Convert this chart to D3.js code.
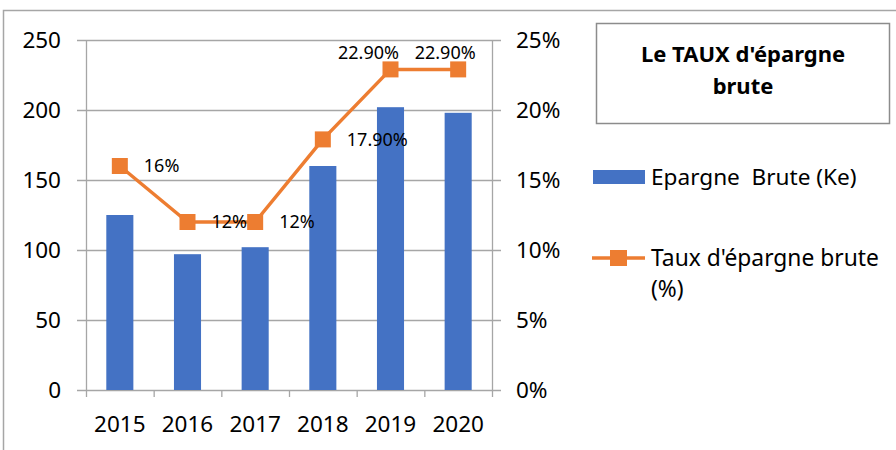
<!DOCTYPE html>
<html><head><meta charset="utf-8">
<script src="https://cdn.jsdelivr.net/npm/d3@7"></script>
<style>body{margin:0;background:#fff}svg{display:block;font-family:"Noto Sans",sans-serif}</style>
</head><body><div id="chart"></div>
<script>
const years = ["2015","2016","2017","2018","2019","2020"];
const epargne = [125, 97, 102, 160, 202, 198];
const taux = [16, 12, 12, 17.9, 22.9, 22.9];
const tauxLabels = ["16%","12%","12%","17.90%","22.90%","22.90%"];
const leftTicks = [0, 50, 100, 150, 200, 250];
const rightTicks = [0, 5, 10, 15, 20, 25];
const title = ["Le TAUX d'épargne", "brute"];
const legendNames = ["Epargne  Brute (Ke)", "Taux d'épargne brute", "(%)"];

const W = 896, H = 450;
const blue = "#4472C4", orange = "#ED7D31", grid = "#a6a6a6";
const svg = d3.select("#chart").append("svg").attr("width", W).attr("height", H);

// outer chart border
svg.append("rect").attr("x", 3.5).attr("y", 10.5).attr("width", 900).attr("height", 460)
  .attr("fill", "none").attr("stroke", "#a6a6a6").attr("stroke-width", 1.5);

const x0 = 86, x1 = 492, yTop = 40, yBot = 390;
const x = d3.scaleBand().domain(years).range([x0, x1]).paddingInner(0.6).paddingOuter(0.3);
const xc = d3.scaleBand().domain(years).range([x0, x1]);
const yL = d3.scaleLinear().domain([0, 250]).range([yBot, yTop]);
const yR = d3.scaleLinear().domain([0, 25]).range([yBot, yTop]);

// gridlines
svg.append("g").selectAll("line").data(leftTicks).join("line")
  .attr("x1", x0 - 9).attr("x2", x1 + 9)
  .attr("y1", d => yL(d) + 0.5).attr("y2", d => yL(d) + 0.5)
  .attr("stroke", grid).attr("stroke-width", 1.3);

// axes lines
svg.append("line").attr("x1", x0 + 0.5).attr("x2", x0 + 0.5).attr("y1", yTop).attr("y2", yBot + 7)
  .attr("stroke", grid).attr("stroke-width", 1.3);
svg.append("line").attr("x1", x1 + 0.5).attr("x2", x1 + 0.5).attr("y1", yTop).attr("y2", yBot + 7)
  .attr("stroke", grid).attr("stroke-width", 1.3);
// category ticks
svg.append("g").selectAll("line").data(years.slice(1)).join("line")
  .attr("x1", d => xc(d) + 0.5).attr("x2", d => xc(d) + 0.5)
  .attr("y1", yBot).attr("y2", yBot + 7)
  .attr("stroke", grid).attr("stroke-width", 1.3);

// left tick labels
svg.append("g").selectAll("text").data(leftTicks).join("text")
  .attr("x", 61).attr("y", d => yL(d)).attr("dy", "0.36em")
  .attr("text-anchor", "end").attr("font-size", 22.5).attr("fill", "#000")
  .text(d => d);
// right tick labels
svg.append("g").selectAll("text").data(rightTicks).join("text")
  .attr("x", 516).attr("y", d => yR(d)).attr("dy", "0.36em")
  .attr("text-anchor", "start").attr("font-size", 22.5).attr("fill", "#000")
  .text(d => d + "%");
// x labels
svg.append("g").selectAll("text").data(years).join("text")
  .attr("x", d => xc(d) + xc.bandwidth() / 2).attr("y", 432)
  .attr("text-anchor", "middle").attr("font-size", 22.5).attr("fill", "#000")
  .text(d => d);

// bars
svg.append("g").selectAll("rect").data(epargne).join("rect")
  .attr("x", (d, i) => x(years[i])).attr("width", x.bandwidth())
  .attr("y", d => yL(d)).attr("height", d => yBot - yL(d))
  .attr("fill", blue);

// line
const pts = taux.map((v, i) => [xc(years[i]) + xc.bandwidth() / 2, yR(v)]);
svg.append("path").attr("d", d3.line()(pts)).attr("fill", "none")
  .attr("stroke", orange).attr("stroke-width", 3.5).attr("stroke-linejoin", "round");
const ms = 16;
svg.append("g").selectAll("rect").data(pts).join("rect")
  .attr("x", d => d[0] - ms / 2).attr("y", d => d[1] - ms / 2)
  .attr("width", ms).attr("height", ms).attr("fill", orange);

// data labels
const aboveDx = [0, 0, 0, 0, -22, -13];
svg.append("g").selectAll("text").data(pts).join("text")
  .attr("x", (d, i) => i < 4 ? d[0] + 24 : d[0] + aboveDx[i])
  .attr("y", (d, i) => i < 4 ? d[1] : d[1] - 17)
  .attr("dy", "0.36em")
  .attr("text-anchor", (d, i) => i < 4 ? "start" : "middle")
  .attr("font-size", 18).attr("fill", "#000")
  .text((d, i) => tauxLabels[i]);

// title box
svg.append("rect").attr("x", 596.5).attr("y", 23.5).attr("width", 293).attr("height", 100)
  .attr("fill", "#fff").attr("stroke", "#8c8c8c").attr("stroke-width", 1.5);
svg.append("g").selectAll("text").data(title).join("text")
  .attr("x", 743).attr("y", (d, i) => 62 + i * 32)
  .attr("text-anchor", "middle").attr("font-size", 22).attr("font-weight", "bold").attr("fill", "#000")
  .text(d => d);

// legend
svg.append("rect").attr("x", 593).attr("y", 170).attr("width", 52).attr("height", 14).attr("fill", blue);
svg.append("text").attr("x", 651).attr("y", 185).attr("font-size", 22.6).attr("fill", "#000")
  .attr("xml:space", "preserve").style("white-space", "pre").text(legendNames[0]);
svg.append("line").attr("x1", 592).attr("x2", 645).attr("y1", 258).attr("y2", 258)
  .attr("stroke", orange).attr("stroke-width", 3.5);
svg.append("rect").attr("x", 610).attr("y", 250).attr("width", 17).attr("height", 16).attr("fill", orange);
svg.append("text").attr("x", 651).attr("y", 266).attr("font-size", 22.8).attr("fill", "#000").text(legendNames[1]);
svg.append("text").attr("x", 651).attr("y", 297).attr("font-size", 22.8).attr("fill", "#000").text(legendNames[2]);
</script></body></html>
